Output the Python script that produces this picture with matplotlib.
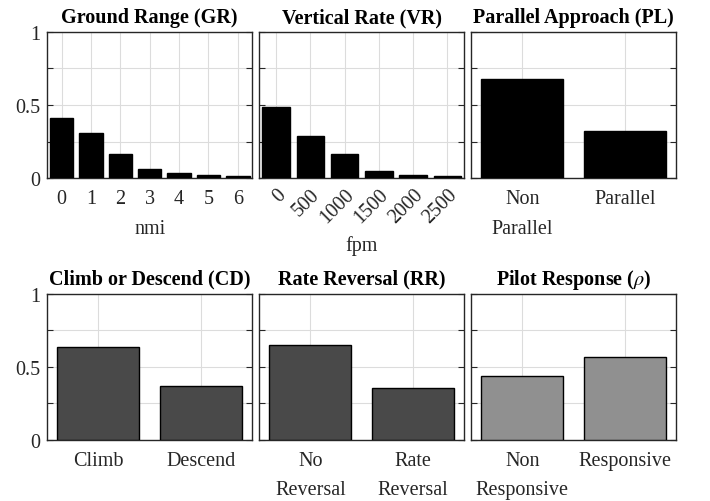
import matplotlib
matplotlib.use("Agg")
import matplotlib.pyplot as plt

plt.rcParams['font.family'] = ['Liberation Serif', 'DejaVu Serif']
plt.rcParams['mathtext.fontset'] = 'stix'

# ground range (nmi)
gr_labels = ["0", "1", "2", "3", "4", "5", "6"]
gr_values = [0.41, 0.308, 0.164, 0.064, 0.036, 0.018, 0.014]

# vertical rate (fpm)
vr_labels = ["0", "500", "1000", "1500", "2000", "2500"]
vr_values = [0.486, 0.288, 0.162, 0.048, 0.018, 0.014]

pl_labels = ["Non\nParallel", "Parallel"]
pl_values = [0.68, 0.32]

cd_labels = ["Climb", "Descend"]
cd_values = [0.636, 0.364]

rr_labels = ["No\nReversal", "Rate\nReversal"]
rr_values = [0.646, 0.354]

rho_labels = ["Non\nResponsive", "Responsive"]
rho_values = [0.438, 0.562]

fig = plt.figure(figsize=(7.1, 5.02), dpi=100)

lefts = [0.0662, 0.3648, 0.6634]
w = 0.2894
top_y, top_h = 0.6434, 0.2909
bot_y, bot_h = 0.1225, 0.2908

fs = 14.5


def setup(ax, labels, values, title, color, show_y, rot=0):
    x = list(range(len(values)))
    ax.bar(x, values, width=0.8, color=color, edgecolor='black', linewidth=1.0, zorder=3)
    ax.set_xlim(-0.5, len(values) - 0.5)
    ax.set_ylim(0, 1)
    ax.set_xticks(x)
    if rot:
        ax.set_xticklabels(labels, rotation=rot, ha='right', rotation_mode='anchor')
    else:
        ax.set_xticklabels(labels)
    ax.set_yticks([0, 0.25, 0.5, 0.75, 1])
    if show_y:
        ax.set_yticklabels(["0", "", "0.5", "", "1"])
    else:
        ax.set_yticklabels([])
    ax.tick_params(axis='both', direction='in', length=4, width=0.8, color='#262626',
                   labelsize=fs, labelcolor='#262626', right=True, top=False, pad=5)
    ax.tick_params(axis='x', length=0, pad=8)
    ax.grid(True, color='#dcdcdc', linewidth=0.8, zorder=0)
    for s in ax.spines.values():
        s.set_color('#262626')
        s.set_linewidth(1.0)
    ax.set_title(title, fontsize=fs, fontweight='bold', pad=7)


ax1 = fig.add_axes([lefts[0], top_y, w, top_h])
setup(ax1, gr_labels, gr_values, "Ground Range (GR)", 'black', True)
ax1.set_xlabel("nmi", fontsize=fs, color='#262626', labelpad=8)

ax2 = fig.add_axes([lefts[1], top_y, w, top_h])
setup(ax2, vr_labels, vr_values, "Vertical Rate (VR)", 'black', False, rot=45)
ax2.tick_params(axis='x', pad=5)
ax2.set_xlabel("fpm", fontsize=fs, color='#262626', labelpad=6)

ax3 = fig.add_axes([lefts[2], top_y, w, top_h])
setup(ax3, pl_labels, pl_values, "Parallel Approach (PL)", 'black', False)

ax4 = fig.add_axes([lefts[0], bot_y, w, bot_h])
setup(ax4, cd_labels, cd_values, "Climb or Descend (CD)", '#494949', True)

ax5 = fig.add_axes([lefts[1], bot_y, w, bot_h])
setup(ax5, rr_labels, rr_values, "Rate Reversal (RR)", '#494949', False)

ax6 = fig.add_axes([lefts[2], bot_y, w, bot_h])
setup(ax6, rho_labels, rho_values, r"Pilot Response ($\rho$)", '#909090', False)

for ax in [ax3, ax4, ax5, ax6]:
    for t in ax.get_xticklabels():
        t.set_linespacing(1.75)

fig.savefig("out.png", dpi=100)
